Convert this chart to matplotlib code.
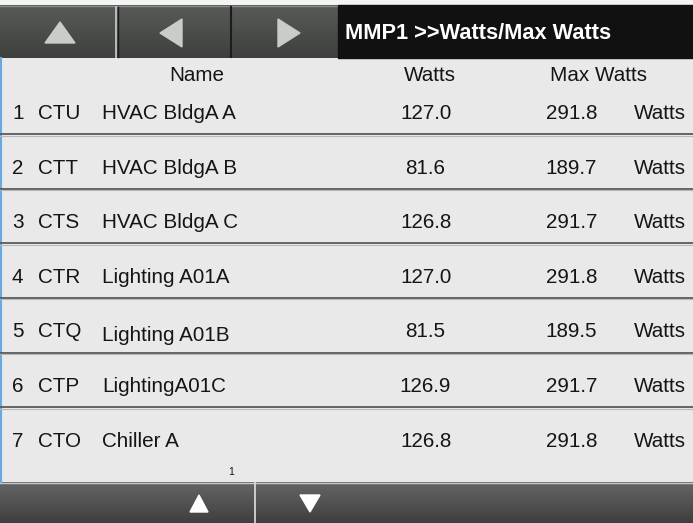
import matplotlib
matplotlib.use("Agg")
import matplotlib.pyplot as plt
import numpy as np
from matplotlib.patches import Rectangle, Polygon

# ---- data ----
row_numbers = ["1", "2", "3", "4", "5", "6", "7"]
codes = ["CTU", "CTT", "CTS", "CTR", "CTQ", "CTP", "CTO"]
names = ["HVAC BldgA A", "HVAC BldgA B", "HVAC BldgA C", "Lighting A01A",
         "Lighting A01B", "LightingA01C", "Chiller A"]
watts = [127.0, 81.6, 126.8, 127.0, 81.5, 126.9, 126.8]
max_watts = [291.8, 189.7, 291.7, 291.8, 189.5, 291.7, 291.8]
unit = "Watts"
headers = ["Name", "Watts", "Max Watts"]
title = "MMP1 >>Watts/Max Watts"
page = "1"

W, H = 693, 523
plt.rcParams['font.family'] = ['Liberation Sans', 'DejaVu Sans']
fig = plt.figure(figsize=(W / 100, H / 100), dpi=100)
ax = fig.add_axes([0, 0, 1, 1])
ax.set_xlim(0, W)
ax.set_ylim(H, 0)
ax.axis('off')

bg = '#e9e9e9'
ax.add_patch(Rectangle((0, 0), W, H, color=bg, zorder=0))
ax.add_patch(Rectangle((0, 0), W, 5, color='#f4f4f4', zorder=0))

def grad(x0, x1, y0, y1, c_top, c_bot, z=1):
    n = 64
    t = np.linspace(0, 1, n)[:, None]
    c0 = np.array(matplotlib.colors.to_rgb(c_top))
    c1 = np.array(matplotlib.colors.to_rgb(c_bot))
    img = (c0 * (1 - t) + c1 * t)[:, None, :]
    img = np.repeat(img, 2, axis=1)
    ax.imshow(img, extent=(x0, x1, y1, y0), aspect='auto', zorder=z,
              interpolation='bilinear')

# top bar
grad(0, 338, 5, 58, '#595b59', '#3e403e')
ax.plot([0, 338], [5.5, 5.5], color='#8a8c8a', lw=1, zorder=2)
ax.plot([116, 116], [7, 57], color='#c4c4c4', lw=1.3, zorder=2)
ax.plot([118, 118], [7, 57], color='#1c1c1c', lw=1.0, zorder=2)
ax.plot([231, 231], [7, 57], color='#1c1c1c', lw=1.5, zorder=2)
ax.add_patch(Rectangle((338, 5), W - 338, 53, color='#111111', zorder=2))
ax.text(345, 39, title, color='white', fontsize=15.7, fontweight='bold',
        va='baseline', ha='left', zorder=3)
tri = '#c9cdc9'
ax.add_patch(Polygon([[45, 43], [75, 43], [60, 22]], closed=True, color=tri, zorder=3))
ax.add_patch(Polygon([[160, 33], [182, 19], [182, 47]], closed=True, color=tri, zorder=3))
ax.add_patch(Polygon([[278, 19], [278, 47], [300, 33]], closed=True, color=tri, zorder=3))

# left blue edge
ax.plot([1, 1], [58, 482], color='#6aa8e0', lw=1.5, zorder=2)

# headers
fs = 14.9
tc = '#151515'
hy = 81
ax.text(197, hy, headers[0], fontsize=fs, ha='center', va='baseline', color=tc)
ax.text(430, hy, headers[1], fontsize=fs, ha='center', va='baseline', color=tc)
ax.text(598, hy, headers[2], fontsize=fs, ha='center', va='baseline', color=tc)

# rows
row_top = 79.5
row_h = 54.6
for i in range(len(codes)):
    yb = row_top + row_h * i + 39.5
    ax.text(12, yb, row_numbers[i], fontsize=fs, ha='left', va='baseline', color=tc)
    ax.text(38, yb, codes[i], fontsize=fs, ha='left', va='baseline', color=tc)
    ax.text(102, yb + (4 if i == 4 else 0), names[i], fontsize=fs, ha='left',
            va='baseline', color=tc)
    ax.text(425.5, yb, f"{watts[i]:.1f}", fontsize=fs, ha='center', va='baseline', color=tc)
    ax.text(571.5, yb, f"{max_watts[i]:.1f}", fontsize=fs, ha='center', va='baseline', color=tc)
    ax.text(634, yb, unit, fontsize=fs, ha='left', va='baseline', color=tc, clip_on=True)
    if i < len(codes) - 1:
        ys = row_top + row_h * (i + 1)
        ax.plot([0, W], [ys, ys], color='#5a5a5a', lw=1.3, zorder=2)
        ax.plot([0, W], [ys + 1.5, ys + 1.5], color='#b8b8b8', lw=0.8, zorder=2)

# page number
ax.text(231, 475, page, fontsize=7.5, ha='center', va='baseline', color=tc)

# bottom bar
grad(0, W, 482, H, '#666666', '#3e3e3e')
ax.plot([0, W], [482.5, 482.5], color='#c8c8c8', lw=1, zorder=2)
ax.plot([255, 255], [482, H], color='#e0e0e0', lw=1.2, zorder=2)
ax.add_patch(Polygon([[190, 512], [208, 512], [199, 495]], closed=True, color='white', zorder=3))
ax.add_patch(Polygon([[300, 495], [320, 495], [310, 512]], closed=True, color='white', zorder=3))

fig.savefig('out.png', dpi=100)
